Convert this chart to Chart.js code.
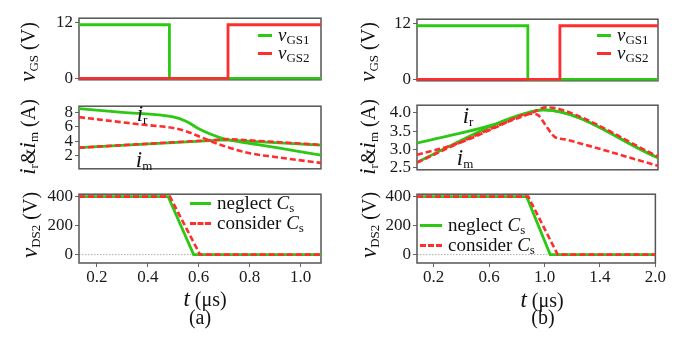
<!DOCTYPE html>
<html>
<head>
<meta charset="utf-8">
<script src="https://cdn.jsdelivr.net/npm/chart.js@4.4.0/dist/chart.umd.min.js"></script>
<style>
body { margin: 0; background: #fff; }
#fig { position: relative; width: 686px; height: 337px; overflow: hidden;
       font-family: 'Liberation Serif', 'Times New Roman', serif; color: #111; }
.box { position: absolute; }
.lbl { position: absolute; white-space: nowrap; line-height: 1; transform: translate(-50%, -50%); font-size: 20px; }
.ytitle { position: absolute; white-space: nowrap; line-height: 1; font-size: 20px;
          transform: translate(-50%, -50%) rotate(-90deg); }
.ytitle i, .lbl i { font-size: 23px; }
sub { font-size: 13px; vertical-align: -3px; line-height: 0; font-style: normal; }
.leg { position: absolute; font-size: 19px; }
.leg .row { display: flex; align-items: center; height: 18px; white-space: nowrap; }
.sw { display: inline-block; height: 0; border-top: 3px solid; margin-right: 6px; }
</style>
</head>
<body>
<div id="fig">
  <div class="box" id="boxA1"><canvas id="cA1"></canvas></div>
  <div class="box" id="boxA2"><canvas id="cA2"></canvas></div>
  <div class="box" id="boxA3"><canvas id="cA3"></canvas></div>
  <div class="box" id="boxB1"><canvas id="cB1"></canvas></div>
  <div class="box" id="boxB2"><canvas id="cB2"></canvas></div>
  <div class="box" id="boxB3"><canvas id="cB3"></canvas></div>

  <!-- titres des axes y -->
  <div class="ytitle" style="left:27px;top:52px"><i>v</i><sub>GS</sub> (V)</div>
  <div class="ytitle" style="left:27px;top:137px"><i>i</i><sub>r</sub>&amp;<i>i</i><sub>m</sub> (A)</div>
  <div class="ytitle" style="left:29px;top:225px"><i>v</i><sub>DS2</sub> (V)</div>
  <div class="ytitle" style="left:367px;top:52px"><i>v</i><sub>GS</sub> (V)</div>
  <div class="ytitle" style="left:367px;top:137px"><i>i</i><sub>r</sub>&amp;<i>i</i><sub>m</sub> (A)</div>
  <div class="ytitle" style="left:368px;top:225px"><i>v</i><sub>DS2</sub> (V)</div>

  <!-- titres x et sous-figures -->
  <div class="lbl" style="left:205px;top:298px"><i>t</i> (μs)</div>
  <div class="lbl" style="left:200px;top:317px">(a)</div>
  <div class="lbl" style="left:542px;top:299px"><i>t</i> (μs)</div>
  <div class="lbl" style="left:543px;top:317px">(b)</div>

  <!-- étiquettes des courbes -->
  <div class="lbl" style="left:142px;top:113px"><i>i</i><sub>r</sub></div>
  <div class="lbl" style="left:144px;top:159px"><i>i</i><sub>m</sub></div>
  <div class="lbl" style="left:468px;top:115px"><i>i</i><sub>r</sub></div>
  <div class="lbl" style="left:465px;top:157px"><i>i</i><sub>m</sub></div>

  <!-- légendes -->
  <div class="leg" style="left:258px;top:26px">
    <div class="row"><span class="sw" style="width:14px;border-color:#2dc814"></span><span><i>v</i><sub>GS1</sub></span></div>
    <div class="row"><span class="sw" style="width:14px;border-color:#ff2d2d"></span><span><i>v</i><sub>GS2</sub></span></div>
  </div>
  <div class="leg" style="left:597px;top:26px">
    <div class="row"><span class="sw" style="width:14px;border-color:#2dc814"></span><span><i>v</i><sub>GS1</sub></span></div>
    <div class="row"><span class="sw" style="width:14px;border-color:#ff2d2d"></span><span><i>v</i><sub>GS2</sub></span></div>
  </div>
  <div class="leg" style="left:190px;top:193px">
    <div class="row" style="height:20px"><span class="sw" style="width:21px;border-color:#2dc814"></span><span>neglect <i>C</i><sub>s</sub></span></div>
    <div class="row" style="height:20px"><span class="sw" style="width:21px;border-color:#ff2d2d;border-top-style:dashed"></span><span>consider <i>C</i><sub>s</sub></span></div>
  </div>
  <div class="leg" style="left:420px;top:215px">
    <div class="row" style="height:20px"><span class="sw" style="width:22px;border-color:#2dc814"></span><span>neglect <i>C</i><sub>s</sub></span></div>
    <div class="row" style="height:20px"><span class="sw" style="width:22px;border-color:#ff2d2d;border-top-style:dashed"></span><span>consider <i>C</i><sub>s</sub></span></div>
  </div>
</div>

<script>
// ---- Données (a) ----
const tA_gs1 = [0.13, 0.485, 0.485, 1.08];
const vA_gs1 = [11.5, 11.5, 0, 0];
const tA_gs2 = [0.13, 0.715, 0.715, 1.08];
const vA_gs2 = [0, 0, 11.5, 11.5];

const tA_irNeg = [0.13, 0.3, 0.5, 0.55, 0.6, 0.65, 0.7, 0.75, 0.9, 1.08];
const iA_irNeg = [8.55, 8.05, 7.4, 6.8, 5.75, 4.95, 4.35, 4.0, 3.15, 2.05];
const tA_imNeg = [0.13, 0.7, 1.08];
const iA_imNeg = [3.1, 4.2, 3.45];
const tA_irCon = [0.13, 0.375, 0.5, 0.55, 0.6, 0.69, 0.8, 0.9, 1.08];
const iA_irCon = [7.37, 6.34, 5.85, 5.4, 4.7, 3.45, 2.33, 1.8, 0.97];
const tA_imCon = [0.13, 0.72, 1.08];
const iA_imCon = [3.1, 4.3, 3.5];

const tA_dsNeg = [0.13, 0.48, 0.58, 1.08];
const vA_dsNeg = [400, 400, 0, 0];
const tA_dsCon = [0.13, 0.487, 0.605, 1.08];
const vA_dsCon = [400, 400, 0, 0];

const xTicksA = [0.2, 0.4, 0.6, 0.8, 1.0];
const xLabelsA = ['0.2', '0.4', '0.6', '0.8', '1.0'];

// ---- Données (b) ----
const tB_gs1 = [0.08, 0.871, 0.871, 1.8];
const vB_gs1 = [11.5, 11.5, 0, 0];
const tB_gs2 = [0.08, 1.1, 1.1, 1.8];
const vB_gs2 = [0, 0, 11.5, 11.5];

const tB_irNeg = [0.08, 0.64, 0.85, 0.98, 1.8];
const iB_irNeg = [3.17, 3.69, 3.98, 4.08, 2.77];
const tB_imNeg = [0.08, 0.64, 0.85, 0.98, 1.8];
const iB_imNeg = [2.64, 3.69, 3.98, 4.08, 2.77];
const tB_irCon = [0.08, 0.4, 0.64, 0.9, 0.95, 1.0, 1.06, 1.14, 1.8];
const iB_irCon = [2.85, 3.2, 3.6, 3.98, 3.92, 3.65, 3.35, 3.27, 2.55];
const tB_imCon = [0.08, 0.64, 0.9, 1.0, 1.1, 1.8];
const iB_imCon = [2.64, 3.62, 4.0, 4.15, 4.1, 2.8];

const tB_dsNeg = [0.08, 0.871, 1.041, 1.8];
const vB_dsNeg = [400, 400, 0, 0];
const tB_dsCon = [0.08, 0.883, 1.095, 1.8];
const vB_dsCon = [400, 400, 0, 0];

const xTicksB = [0.2, 0.6, 1.0, 1.4, 1.8];
const xLabelsB = ['0.2', '0.6', '1.0', '1.4', '2.0'];

// ticks y
const yTicksGS = [0, 12];
const yTicksIA = [2, 4, 6, 8];
const yTicksIB = [2.5, 3.0, 3.5, 4.0];
const yTicksDS = [0, 200, 400];

// ---- Mise en page ----
const GREEN = '#2dc814';
const RED = '#ff2d2d';
const FONT = "'Liberation Serif', 'Times New Roman', serif";
const Y_AXIS_W = 50;
const PAD = 8;
const X_AXIS_H = 24;

Chart.defaults.font.family = FONT;

const pts = (ts, vs) => ts.map((t, i) => ({ x: t, y: vs[i] }));

function line(ts, vs, color, dashed, order, smooth) {
    return {
        data: pts(ts, vs),
        borderColor: color,
        borderWidth: dashed ? 2.6 : 2.8,
        borderDash: dashed ? [6, 3] : [],
        pointRadius: 0,
        fill: false,
        order: order,
        cubicInterpolationMode: smooth ? 'monotone' : 'default',
        tension: 0
    };
}

// cadre autour de la zone de tracé + ligne pointillée à zéro
const framePlugin = {
    id: 'frame',
    beforeDatasetsDraw(chart, args, opts) {
        const { ctx, chartArea: a } = chart;
        ctx.save();
        if (opts.zeroLine) {
            const y0 = chart.scales.y.getPixelForValue(0);
            ctx.strokeStyle = '#999';
            ctx.lineWidth = 0.8;
            ctx.setLineDash([1.5, 1.5]);
            ctx.beginPath();
            ctx.moveTo(a.left, y0);
            ctx.lineTo(a.right, y0);
            ctx.stroke();
            ctx.setLineDash([]);
        }
        ctx.strokeStyle = '#555';
        ctx.lineWidth = 1.5;
        ctx.strokeRect(a.left, a.top, a.right - a.left, a.bottom - a.top);
        ctx.restore();
    }
};

function makeChart(id, rect, datasets, x, y, withX, zeroLine) {
    const box = document.getElementById('box' + id);
    box.style.left = (rect.l - Y_AXIS_W) + 'px';
    box.style.top = (rect.t - PAD) + 'px';
    box.style.width = (rect.w + Y_AXIS_W + PAD) + 'px';
    box.style.height = (rect.h + PAD * 2 + (withX ? X_AXIS_H : 0)) + 'px';

    return new Chart(document.getElementById('c' + id), {
        type: 'line',
        data: { datasets },
        plugins: [framePlugin],
        options: {
            animation: false,
            responsive: true,
            maintainAspectRatio: false,
            layout: { padding: { top: PAD, right: PAD, bottom: PAD, left: 0 } },
            plugins: {
                legend: { display: false },
                tooltip: { enabled: false },
                frame: { zeroLine: zeroLine }
            },
            scales: {
                x: {
                    type: 'linear',
                    display: withX,
                    min: x.min,
                    max: x.max,
                    afterBuildTicks: s => { s.ticks = x.ticks.map(v => ({ value: v })); },
                    afterFit: s => { if (withX) s.height = X_AXIS_H; },
                    grid: { drawOnChartArea: false, tickLength: 4, color: '#666' },
                    border: { display: false },
                    ticks: {
                        autoSkip: false, maxRotation: 0, padding: 0,
                        color: '#1a1a1a', font: { family: FONT, size: 17 },
                        callback: (v, i) => x.labels[i]
                    }
                },
                y: {
                    min: y.min,
                    max: y.max,
                    afterBuildTicks: s => { s.ticks = y.ticks.map(v => ({ value: v })); },
                    afterFit: s => { s.width = Y_AXIS_W; },
                    grid: { drawOnChartArea: false, tickLength: 4, color: '#666' },
                    border: { display: false },
                    ticks: {
                        autoSkip: false, padding: 2,
                        color: '#1a1a1a', font: { family: FONT, size: 17 },
                        callback: (v, i) => y.labels[i]
                    }
                }
            }
        }
    });
}

const xA = { min: 0.13, max: 1.08, ticks: xTicksA, labels: xLabelsA };
const xB = { min: 0.08, max: 1.8, ticks: xTicksB, labels: xLabelsB };
const yGS = { min: -0.3, max: 12.9, ticks: yTicksGS, labels: yTicksGS.map(String) };
const yIA = { min: 0.15, max: 8.9, ticks: yTicksIA, labels: yTicksIA.map(String) };
const yIB = { min: 2.44, max: 4.21, ticks: yTicksIB, labels: yTicksIB.map(v => v.toFixed(1)) };
const yDS = { min: -58, max: 417, ticks: yTicksDS, labels: yTicksDS.map(String) };

function drawAll() {
    // (a)
    makeChart('A1', { l: 79, t: 14, w: 242, h: 70 }, [
        line(tA_gs2, vA_gs2, RED, false, 0),
        line(tA_gs1, vA_gs1, GREEN, false, 1)
    ], xA, yGS, false, false);

    makeChart('A2', { l: 79, t: 102, w: 242, h: 71 }, [
        line(tA_irCon, iA_irCon, RED, true, 0, true),
        line(tA_imCon, iA_imCon, RED, true, 0),
        line(tA_irNeg, iA_irNeg, GREEN, false, 1, true),
        line(tA_imNeg, iA_imNeg, GREEN, false, 1)
    ], xA, yIA, false, false);

    makeChart('A3', { l: 79, t: 190, w: 242, h: 73 }, [
        line(tA_dsCon, vA_dsCon, RED, true, 0),
        line(tA_dsNeg, vA_dsNeg, GREEN, false, 1)
    ], xA, yDS, true, true);

    // (b)
    makeChart('B1', { l: 417, t: 15, w: 241, h: 70 }, [
        line(tB_gs2, vB_gs2, RED, false, 0),
        line(tB_gs1, vB_gs1, GREEN, false, 1)
    ], xB, yGS, false, false);

    makeChart('B2', { l: 417, t: 101, w: 241, h: 73 }, [
        line(tB_irCon, iB_irCon, RED, true, 0, true),
        line(tB_imCon, iB_imCon, RED, true, 0, true),
        line(tB_irNeg, iB_irNeg, GREEN, false, 1, true),
        line(tB_imNeg, iB_imNeg, GREEN, false, 1, true)
    ], xB, yIB, false, false);

    makeChart('B3', { l: 417, t: 190, w: 241, h: 73 }, [
        line(tB_dsCon, vB_dsCon, RED, true, 0),
        line(tB_dsNeg, vB_dsNeg, GREEN, false, 1)
    ], xB, yDS, true, true);
}

document.fonts.load('17px "Liberation Serif"').then(drawAll, drawAll);
</script>
</body>
</html>
